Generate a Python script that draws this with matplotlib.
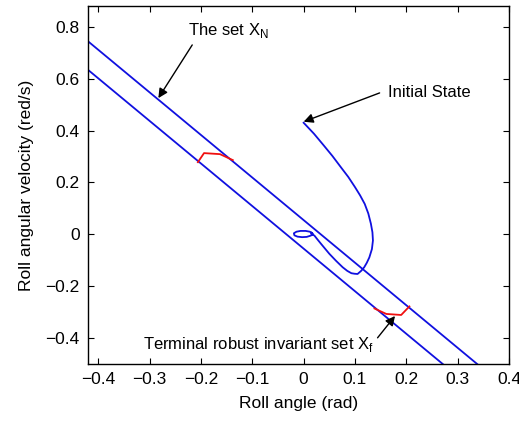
import numpy as np
import matplotlib
matplotlib.use("Agg")
import matplotlib.pyplot as plt

plt.rcParams["font.family"] = ["Liberation Sans", "DejaVu Sans"]
plt.rcParams["mathtext.fontset"] = "custom"
plt.rcParams["mathtext.rm"] = "Liberation Sans"

# межі множини X_N (дві паралельні прямі)
upper_x = [-0.42, 0.338]
upper_y = [0.744, -0.5]
lower_x = [-0.42, 0.271]
lower_y = [0.634, -0.5]

# траєкторія з початкового стану
traj_x = [0.000, 0.020, 0.039, 0.056, 0.072, 0.087, 0.100, 0.110, 0.119, 0.126,
          0.131, 0.134, 0.135, 0.133, 0.128, 0.123, 0.118, 0.112, 0.105, 0.099,
          0.093, 0.085, 0.076, 0.063, 0.050, 0.042, 0.034, 0.027, 0.021, 0.015,
          0.017, 0.012, 0.004, -0.006, -0.014, -0.019, -0.018, -0.012, -0.003,
          0.006, 0.014, 0.018, 0.015]
traj_y = [0.430, 0.388, 0.343, 0.302, 0.260, 0.221, 0.182, 0.150, 0.117, 0.080,
          0.041, 0.008, -0.024, -0.057, -0.089, -0.110, -0.127, -0.141, -0.153, -0.152,
          -0.150, -0.141, -0.127, -0.102, -0.075, -0.056, -0.037, -0.020, -0.005, 0.002,
          0.004, 0.010, 0.013, 0.013, 0.010, 0.004, -0.004, -0.009, -0.011,
          -0.010, -0.005, 0.001, 0.006]

# термінальна множина X_f (червоні ділянки)
red1_x = [-0.206, -0.194, -0.163, -0.138]
red1_y = [0.278, 0.313, 0.309, 0.286]
red2_x = [0.206, 0.190, 0.161, 0.138]
red2_y = [-0.278, -0.311, -0.307, -0.286]

fig = plt.figure(figsize=(5.19, 4.24), dpi=100)
ax = fig.add_axes([0.1696, 0.1415, 0.8111, 0.8443])

blue = "#1010e0"
ax.plot(upper_x, upper_y, color=blue, lw=1.3)
ax.plot(lower_x, lower_y, color=blue, lw=1.3)
ax.plot(traj_x, traj_y, color=blue, lw=1.3)
ax.plot(red1_x, red1_y, color="#f01010", lw=1.3)
ax.plot(red2_x, red2_y, color="#f01010", lw=1.3)

# підписи і стрілки
arrow = dict(arrowstyle="-|>", color="black", lw=1.0, mutation_scale=14,
             shrinkA=0, shrinkB=0)
ax.text(-0.225, 0.785, "The set X$_\\mathrm{N}$", fontsize=12, ha="left", va="center")
ax.annotate("", xy=(-0.283, 0.525), xytext=(-0.217, 0.730), arrowprops=arrow)
ax.text(0.165, 0.545, "Initial State", fontsize=12, ha="left", va="center")
ax.annotate("", xy=(0.0, 0.434), xytext=(0.148, 0.545), arrowprops=arrow)
ax.text(-0.312, -0.426, "Terminal robust invariant set X$_\\mathrm{f}$", fontsize=12,
        ha="left", va="center")
ax.annotate("", xy=(0.178, -0.315), xytext=(0.144, -0.399), arrowprops=arrow)

ax.set_xlim(-0.42, 0.4)
ax.set_ylim(-0.5, 0.88)
ax.set_xticks(np.arange(-0.4, 0.41, 0.1))
ax.set_yticks(np.arange(-0.4, 0.81, 0.2))
ax.set_xticklabels(["\u22120.4", "\u22120.3", "\u22120.2", "\u22120.1", "0",
                    "0.1", "0.2", "0.3", "0.4"])
ax.set_yticklabels(["\u22120.4", "\u22120.2", "0", "0.2", "0.4", "0.6", "0.8"])
ax.tick_params(direction="in", top=True, right=True, length=4, width=0.8,
               labelsize=12.5, pad=6)
for s in ax.spines.values():
    s.set_linewidth(1.0)

ax.set_xlabel("Roll angle (rad)", fontsize=12.5, labelpad=6)
ax.set_ylabel("Roll angular velocity (red/s)", fontsize=12.5, labelpad=8)

fig.savefig("out.png", dpi=100)
